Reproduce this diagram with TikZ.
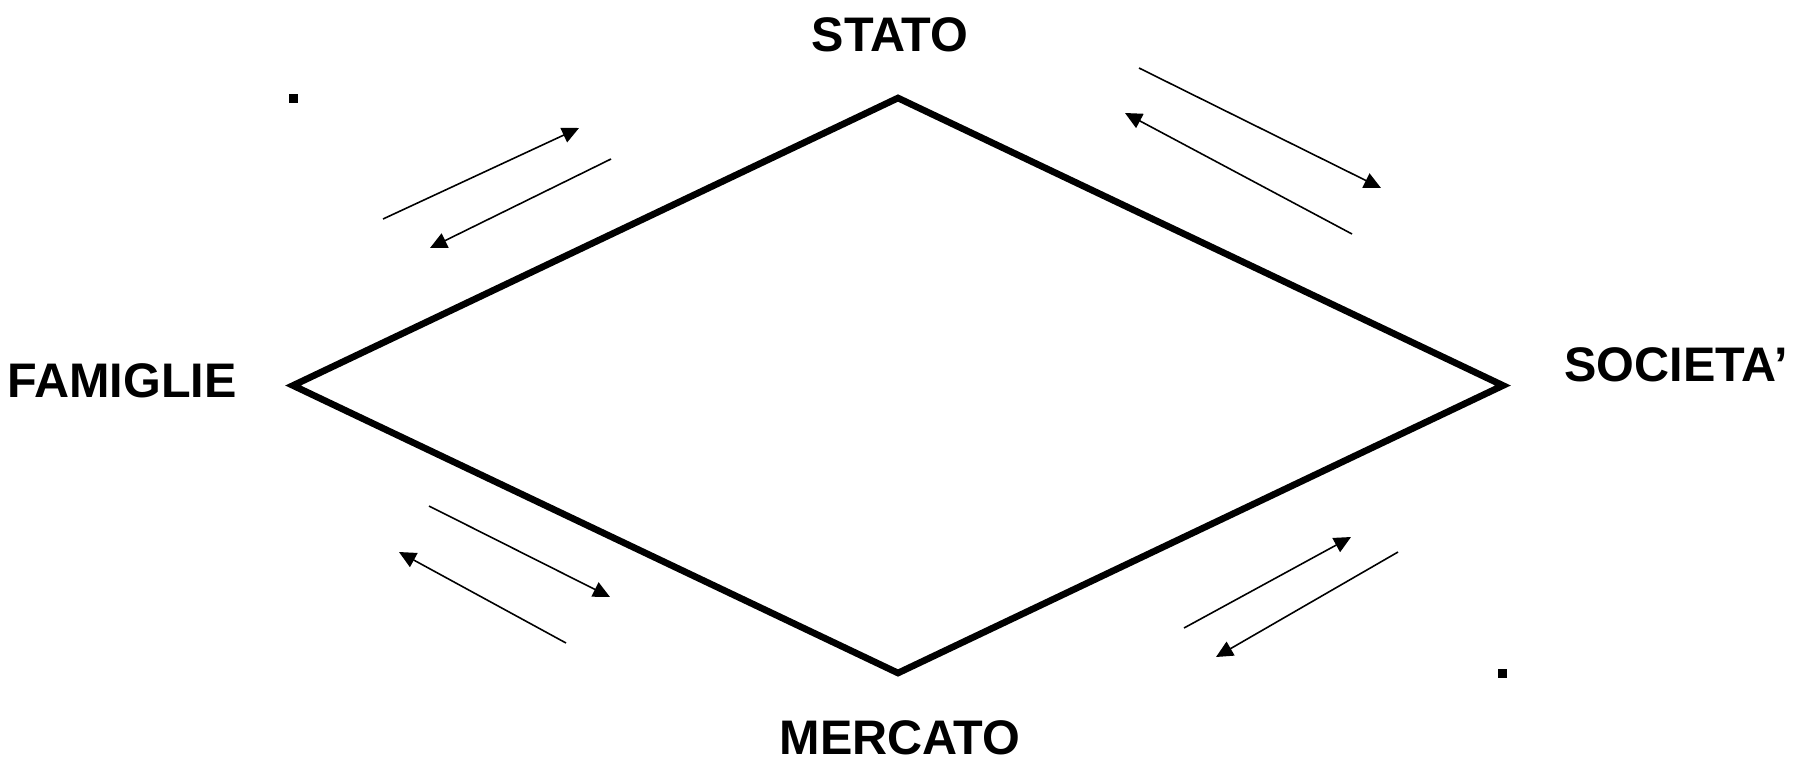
\documentclass[tikz,border=0pt]{standalone}
\usepackage{fontspec}
\setmainfont{Liberation Sans}
\usetikzlibrary{arrows.meta}

\begin{document}
\begin{tikzpicture}
    [   x=0.01cm
    ,   y=-0.01cm
    ,   sector/.style=
        {   font=\bfseries\fontsize{13.8pt}{16pt}\selectfont
        ,   inner sep=0pt
        ,   anchor=base
        }
    ,   flow/.style=
        {   ->
        ,   line width=0.45pt
        }
    ,   >={Triangle[length=4.8pt,width=4.5pt]}
    ]
    \useasboundingbox (0,0) rectangle (1794,763);
    \coordinate (W) at (293,385.5);
    \coordinate (N) at (898,98);
    \coordinate (E) at (1503,385.5);
    \coordinate (S) at (898,673);
    \draw[line width=1.9pt] (W) -- (N) -- (E) -- (S) -- cycle;
    \node[sector] (stato) at (890,51) {STATO};
    \node[sector] (mercato) at (900,754) {MERCATO};
    \node[sector] (famiglie) at (122,397) {FAMIGLIE};
    \node[sector] (societa) at (1676,381) {SOCIETA’};
    \foreach\n/\a/\b/\c/\d in
        {   1/383/219/579/128
        ,   2/611/159/430/248
        ,   3/1139/68/1381/188
        ,   4/1352/234/1125/113
        ,   5/429/506/610/597
        ,   6/566/643/399/552
        ,   7/1184/628/1351/537
        ,   8/1398/552/1216/657
        }
    {   \coordinate (from\n) at (\a,\b);
        \coordinate (to\n) at (\c,\d);
        \draw[flow] (from\n) -- (to\n);
    }
    \fill (289,94) rectangle (298,103);
    \fill (1498,669) rectangle (1507,678);
\end{tikzpicture}
\end{document}
